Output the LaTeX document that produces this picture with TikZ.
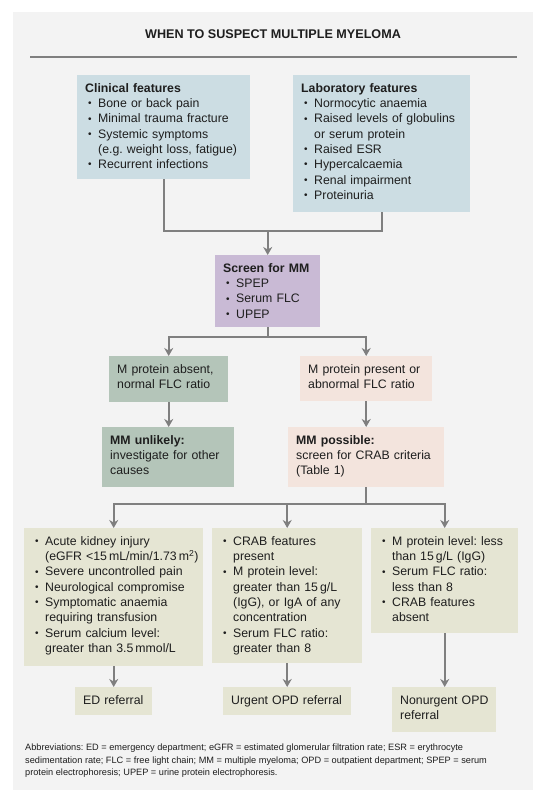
\documentclass[tikz,border=0pt]{standalone}
\usepackage{fontspec}
\setmainfont{Liberation Sans}
\usepackage{xcolor}
\usetikzlibrary{arrows.meta}
\frenchspacing

\definecolor{panelgray}{HTML}{F3F3F3}
\definecolor{clinblue}{HTML}{CCDDE3}
\definecolor{screenpurple}{HTML}{C9BAD5}
\definecolor{absentgreen}{HTML}{B4C5B9}
\definecolor{presentpink}{HTML}{F3E4DD}
\definecolor{critbeige}{HTML}{E5E5D3}
\definecolor{linegray}{HTML}{7F7F7F}
\definecolor{inkgray}{HTML}{1E1E1E}

\newcommand{\mmbul}{\hspace*{3pt}\makebox[10pt][l]{\raisebox{0.8pt}{\fontsize{10}{10}\selectfont\textbullet}}}
\newcommand{\mmind}{\hspace*{13pt}}

\tikzset{
	flowbox/.style={anchor=north west, inner xsep=8pt, inner ysep=0pt, align=left,
		text height=17pt, text=inkgray, font=\fontsize{12.3}{15.3}\selectfont},
	conn/.style={draw=linegray, line width=2.3pt},
	arr/.style={conn, -{Stealth[length=8pt,width=9pt,inset=2.5pt]}}
}

\begin{document}
\begin{tikzpicture}[x=1pt, y=-1pt]
		\useasboundingbox (0,0) rectangle (542,800);
		\fill[white] (0,0) rectangle (542,800);
		\fill[panelgray] (13,12) rectangle (533,790);
		\node[anchor=base, text=inkgray, font=\fontsize{12.6}{15}\selectfont\bfseries] (title) at (273,39) {WHEN TO SUSPECT MULTIPLE MYELOMA};
		\draw[linegray, line width=2pt] (30,57) -- (517,57);

		\node[flowbox, fill=clinblue, text width=157pt, text depth=87pt] (clin) at (77,75)
			{\textbf{Clinical features}\\ \mmbul Bone or back pain\\ \mmbul Minimal trauma fracture\\ \mmbul Systemic symptoms\\ \mmind \mbox{(e.g. weight loss, fatigue)}\\ \mmbul Recurrent infections};
		\node[flowbox, fill=clinblue, text width=161pt, text depth=120pt] (lab) at (293,75)
			{\textbf{Laboratory features}\\ \mmbul Normocytic anaemia\\ \mmbul \mbox{Raised levels of globulins}\\ \mmind or serum protein\\ \mmbul Raised ESR\\ \mmbul Hypercalcaemia\\ \mmbul Renal impairment\\ \mmbul Proteinuria};
		\node[flowbox, fill=screenpurple, text width=89pt, text depth=55pt] (screen) at (215,255)
			{\textbf{Screen for MM}\\ \mmbul SPEP\\ \mmbul Serum FLC\\ \mmbul UPEP};
		\node[flowbox, fill=absentgreen, text width=103pt, text depth=29pt] (absent) at (109,356)
			{\mbox{M protein absent,}\\ normal FLC ratio};
		\node[flowbox, fill=presentpink, text width=116pt, text depth=28pt] (present) at (300,356)
			{\mbox{M protein present or}\\ abnormal FLC ratio};
		\node[flowbox, fill=absentgreen, text width=116pt, text depth=43pt] (unlikely) at (102,427)
			{\textbf{MM unlikely:}\\ \mbox{investigate for other}\\ causes};
		\node[flowbox, fill=presentpink, text width=140pt, text depth=43pt] (possible) at (288,427)
			{\textbf{MM possible:}\\ \mbox{screen for CRAB criteria}\\ (Table 1)};

		\node[flowbox, fill=critbeige, text width=163pt, text depth=121pt] (edcrit) at (24,528)
			{\mmbul Acute kidney injury\\ \mmind \mbox{(eGFR <15\,mL/min/1.73\,m\textsuperscript{2})}\\ \mmbul \mbox{Severe uncontrolled pain}\\ \mmbul \mbox{Neurological compromise}\\ \mmbul Symptomatic anaemia\\ \mmind requiring transfusion\\ \mmbul Serum calcium level:\\ \mmind \mbox{greater than 3.5\,mmol/L}};
		\node[flowbox, fill=critbeige, text width=134pt, text depth=118pt] (urgentcrit) at (212,528)
			{\mmbul CRAB features\\ \mmind present\\ \mmbul M protein level:\\ \mmind \mbox{greater than 15\,g/L}\\ \mmind \mbox{(IgG), or IgA of any}\\ \mmind concentration\\ \mmbul Serum FLC ratio:\\ \mmind greater than 8};
		\node[flowbox, fill=critbeige, text width=131pt, text depth=88pt] (routinecrit) at (371,528)
			{\mmbul \mbox{M protein level: less}\\ \mmind than 15\,g/L (IgG)\\ \mmbul Serum FLC ratio:\\ \mmind less than 8\\ \mmbul CRAB features\\ \mmind absent};

		\node[flowbox, fill=critbeige, text width=61pt, text depth=11pt] (edref) at (75,687) {\mbox{ED referral}};
		\node[flowbox, fill=critbeige, text width=112pt, text depth=11pt] (urgentref) at (223,687) {\mbox{Urgent OPD referral}};
		\node[flowbox, fill=critbeige, text width=88pt, text depth=28pt] (routineref) at (392,687) {\mbox{Nonurgent OPD}\\ referral};

		\coordinate (topjoin) at (screen.north |- 0,231);
		\coordinate (splitjoin) at (screen.south |- 0,337);
		\coordinate (crabjoin) at (possible.south |- 0,504);

		\draw[conn] (clin.south) |- (topjoin) -| (lab.south);
		\draw[arr] (topjoin) -- (screen.north);
		\draw[conn] (screen.south) -- (splitjoin);
		\draw[arr] (splitjoin) -| (absent.north);
		\draw[arr] (splitjoin) -| (present.north);
		\draw[arr] (absent.south) -- (absent.south |- unlikely.north);
		\draw[arr] (present.south) -- (present.south |- possible.north);
		\draw[conn] (possible.south) -- (crabjoin);
		\draw[arr] (crabjoin) -| (edcrit.north);
		\draw[arr] (crabjoin) -| (urgentcrit.north);
		\draw[arr] (crabjoin) -| (routinecrit.north);
		\draw[arr] (edcrit.south) -- (edcrit.south |- edref.north);
		\draw[arr] (urgentcrit.south) -- (urgentcrit.south |- urgentref.north);
		\draw[arr] (routinecrit.south) -- (routinecrit.south |- routineref.north);

		\node[anchor=north west, inner sep=0pt, align=left, text=inkgray, font=\fontsize{9.2}{12.7}\selectfont] (abbrev) at (25,743.5)
			{Abbreviations: ED = emergency department; eGFR = estimated glomerular filtration rate; ESR = erythrocyte\\
			sedimentation rate; FLC = free light chain; MM = multiple myeloma; OPD = outpatient department; SPEP = serum\\
			protein electrophoresis; UPEP = urine protein electrophoresis.};
	\end{tikzpicture}
\end{document}
